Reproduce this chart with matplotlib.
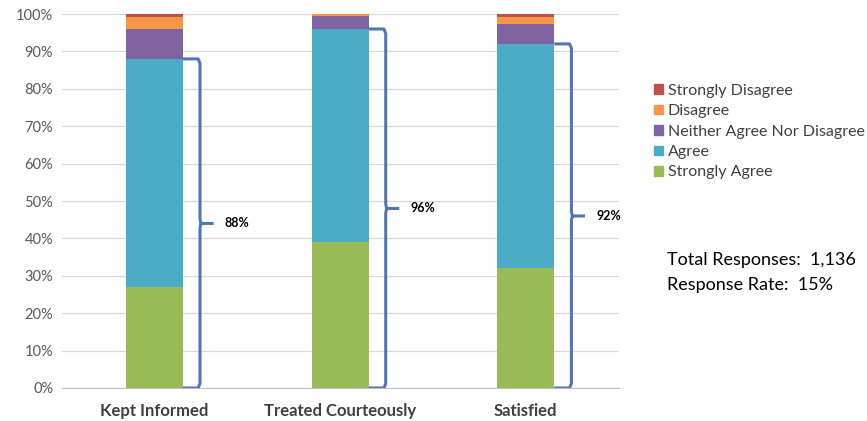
import matplotlib.pyplot as plt
from matplotlib.path import Path
from matplotlib.patches import PathPatch, Patch
import numpy as np

plt.rcParams['font.family'] = ['Lato', 'DejaVu Sans']

# data (percent of responses)
categories = ['Kept Informed', 'Treated Courteously', 'Satisfied']
series = ['Strongly Agree', 'Agree', 'Neither Agree Nor Disagree', 'Disagree', 'Strongly Disagree']
strongly_agree = [27, 39, 32]
agree = [61, 57, 60]
neither = [8, 3.5, 5.3]
disagree = [3.2, 0.5, 1.9]
strongly_disagree = [0.8, 0, 0.8]
brace_labels = ['88%', '96%', '92%']

colors = ['#9BBB59', '#4BACC6', '#8064A2', '#F79646', '#C0504D']

fig = plt.figure(figsize=(8.67, 4.21), dpi=100)
ax = fig.add_axes([0.071, 0.0784, 0.6426, 0.8883])

x = np.arange(len(categories))
w = 0.307
bottom = np.zeros(len(categories))
for vals, c in zip([strongly_agree, agree, neither, disagree, strongly_disagree], colors):
    ax.bar(x, vals, w, bottom=bottom, color=c, zorder=2)
    bottom += np.array(vals)

# curly brackets around strongly agree + agree
for i in range(len(categories)):
    top = strongly_agree[i] + agree[i]
    x0 = x[i] + w / 2
    xv = x0 + 0.092
    xt = x0 + 0.165
    r = 1.2
    mid = top / 2
    verts = [(x0, top), (xv - 0.01, top), (xv, top - r),
             (xv, mid + r), (xv + 0.005, mid), (xt, mid),
             (xv + 0.005, mid), (xv, mid - r),
             (xv, r), (xv - 0.01, 0), (x0, 0)]
    codes = [Path.MOVETO, Path.LINETO, Path.LINETO,
             Path.LINETO, Path.LINETO, Path.LINETO,
             Path.MOVETO, Path.LINETO,
             Path.LINETO, Path.LINETO, Path.LINETO]
    ax.add_patch(PathPatch(Path(verts, codes), fill=False, edgecolor='#4F77B5',
                           lw=2.2, capstyle='butt', joinstyle='round', zorder=3))
    ax.text(x0 + 0.225, mid, brace_labels[i], fontsize=9, fontweight='bold',
            va='center', ha='left', color='black')

ax.set_xlim(-0.5, 2.5)
ax.set_ylim(0, 100)
ax.set_yticks(np.arange(0, 101, 10))
ax.set_yticklabels([f'{v}%' for v in range(0, 101, 10)], fontsize=10.5, color='#595959')
ax.set_xticks(x)
ax.set_xticklabels(categories, fontsize=12, fontweight='bold', color='#404040')
ax.tick_params(length=0)
ax.tick_params(axis='x', pad=11)
ax.tick_params(axis='y', pad=6)
ax.yaxis.grid(True, color='#D9D9D9', lw=0.9, zorder=0)
ax.set_axisbelow(True)
for s in ['top', 'right', 'left']:
    ax.spines[s].set_visible(False)
ax.spines['bottom'].set_color('#BFBFBF')

handles = [Patch(color=c, label=s) for s, c in zip(series, colors)][::-1]
fig.legend(handles=handles, loc='upper left', bbox_to_anchor=(0.738, 0.835),
           frameon=False, fontsize=11.5, handlelength=0.55, handleheight=0.55,
           handletextpad=0.3, labelspacing=0.4, labelcolor='#404040')

fig.text(0.769, 0.382, 'Total Responses:  1,136', fontsize=13, va='center', color='black')
fig.text(0.769, 0.322, 'Response Rate:  15%', fontsize=13, va='center', color='black')

fig.savefig('out.png', dpi=100)
